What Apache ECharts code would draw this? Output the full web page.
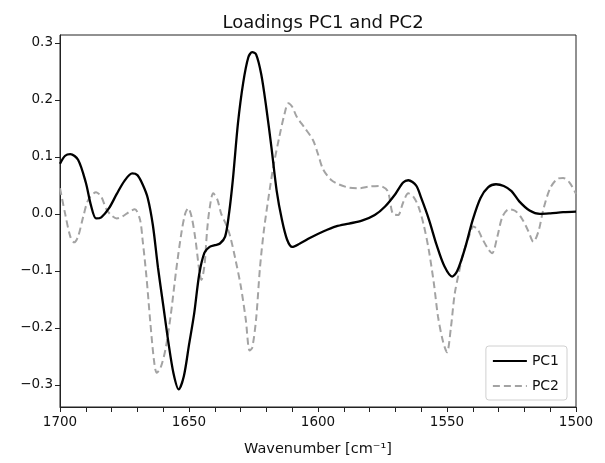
<!DOCTYPE html>
<html>
<head>
<meta charset="utf-8">
<script src="https://cdn.jsdelivr.net/npm/echarts@6/dist/echarts.min.js"></script>
<style>html,body{margin:0;padding:0;background:#fff;}#c{width:605px;height:463px;}</style>
</head>
<body>
<div id="c"></div>
<script>
var pc1Wave = [1700,1698,1696,1693,1690,1688,1686,1684,1681,1678,1675,1672,1670,1668,1666,1664,1662,1660,1658,1656,1654,1652,1650,1648,1646,1644,1642,1640,1638,1636,1634.5,1633,1631,1629,1627,1625.5,1624,1622,1620,1618,1616,1614,1612,1610,1607,1603,1598,1593,1588,1583,1578,1574,1570,1567,1565,1562,1560,1557,1554,1551,1548,1546,1543,1540,1537,1534,1531,1528,1525,1522,1518,1514,1510,1505,1500];
var pc1Load = [0.088,0.102,0.105,0.095,0.055,0.015,-0.008,-0.006,0.010,0.035,0.058,0.071,0.068,0.052,0.028,-0.020,-0.095,-0.160,-0.225,-0.280,-0.308,-0.285,-0.230,-0.175,-0.105,-0.068,-0.058,-0.055,-0.052,-0.040,0.000,0.060,0.160,0.230,0.275,0.284,0.280,0.245,0.185,0.115,0.040,-0.010,-0.045,-0.058,-0.052,-0.042,-0.031,-0.022,-0.017,-0.012,-0.002,0.013,0.035,0.055,0.059,0.050,0.028,-0.010,-0.055,-0.092,-0.110,-0.100,-0.060,-0.010,0.028,0.047,0.052,0.049,0.040,0.022,0.006,0.000,0.001,0.003,0.004];
var pc2Wave = [1700,1698,1696,1694.5,1693,1691,1689,1686,1684,1682,1680,1678,1676,1673,1671,1669,1668,1666.5,1665,1663.5,1662.5,1661,1659,1657,1655,1653,1651.5,1650.3,1649,1647.5,1646,1645.2,1644,1643,1642,1640.6,1639,1637.5,1635.5,1634,1632,1630,1628,1626.5,1625.5,1624,1622.5,1621,1619.3,1617.3,1615,1613,1611.5,1610,1608.3,1605,1602,1600,1598,1595,1592,1588,1584,1580,1576,1573,1571,1569,1567,1565,1563,1561,1559,1557,1555,1553.5,1551.5,1550,1548.5,1547,1545,1543.7,1541.5,1539.8,1538,1536.5,1534,1532.5,1530.5,1528.5,1526,1523.5,1521,1518.5,1516.5,1514.5,1512.7,1510,1507,1505,1502.5,1500];
var pc2Load = [0.045,0.000,-0.040,-0.050,-0.040,-0.005,0.025,0.038,0.030,0.008,-0.003,-0.008,-0.005,0.004,0.008,-0.010,-0.045,-0.110,-0.190,-0.260,-0.279,-0.270,-0.235,-0.175,-0.100,-0.035,0.000,0.010,-0.005,-0.045,-0.100,-0.116,-0.090,-0.030,0.010,0.036,0.025,0.000,-0.020,-0.040,-0.080,-0.125,-0.185,-0.240,-0.235,-0.185,-0.095,-0.030,0.025,0.083,0.135,0.175,0.194,0.188,0.171,0.150,0.130,0.105,0.078,0.060,0.052,0.046,0.045,0.048,0.049,0.040,0.000,-0.002,0.020,0.036,0.030,0.012,-0.020,-0.065,-0.125,-0.180,-0.225,-0.243,-0.200,-0.140,-0.095,-0.069,-0.040,-0.022,-0.028,-0.042,-0.062,-0.069,-0.040,-0.005,0.008,0.005,-0.008,-0.030,-0.049,-0.030,0.007,0.045,0.062,0.063,0.055,0.035];
var seriesNames = ['PC1','PC2'];
var titleText = 'Loadings PC1 and PC2';
var xAxisTitle = 'Wavenumber [cm\u207B\u00B9]';

function pairs(xs, ys){ return xs.map(function(x,i){ return [x, ys[i]]; }); }

var font = 'DejaVu Sans';
var chart = echarts.init(document.getElementById('c'), null, {renderer:'canvas'});
chart.setOption({
  animation: false,
  backgroundColor: '#fff',
  title: {
    text: titleText, left: 318, top: 9, textAlign: 'center',
    textStyle: {fontFamily: font, fontSize: 18, fontWeight: 'normal', color: '#111'}
  },
  grid: {left: 60, right: 29, top: 35, bottom: 56, show: true, borderColor: '#222', borderWidth: 1, backgroundColor: 'transparent'},
  legend: {
    orient: 'vertical', right: 38, bottom: 63,
    data: seriesNames,
    itemWidth: 34, itemHeight: 12, itemGap: 11,
    padding: [8, 8, 7, 6],
    itemStyle: {opacity: 0},
    borderColor: '#d0d0d0', borderWidth: 1, borderRadius: 3,
    textStyle: {fontFamily: font, fontSize: 14, color: '#111'}
  },
  xAxis: {
    type: 'value', inverse: true, min: 1500, max: 1700, interval: 50,
    name: xAxisTitle, nameLocation: 'middle', nameGap: 35,
    nameTextStyle: {fontFamily: font, fontSize: 14.5, color: '#111'},
    axisLine: {show: true, onZero: false, lineStyle: {color: '#222', width: 1}},
    axisTick: {show: true, inside: false, length: 5, lineStyle: {color: '#222'}},
    minorTick: {show: true, splitNumber: 5, length: 5, lineStyle: {color: '#222'}},
    axisLabel: {fontFamily: font, fontSize: 13.5, color: '#111', margin: 8,
      formatter: function(v){ return String(v); }},
    splitLine: {show: false}
  },
  yAxis: {
    type: 'value', min: -0.339, max: 0.314,
    axisLine: {show: true, onZero: false, lineStyle: {color: '#222', width: 1}},
    axisTick: {show: true, inside: false, length: 5, lineStyle: {color: '#222'}},
    axisLabel: {
      fontFamily: font, fontSize: 13.5, color: '#111', margin: 7,
      showMinLabel: false, showMaxLabel: false,
      formatter: function(v){
        if (Math.abs(v*10 - Math.round(v*10)) > 1e-6) return '';
        return (Math.round(v*10)/10).toFixed(1).replace('-', '\u2212');
      }
    },
    splitLine: {show: false}
  },
  series: [
    {
      name: seriesNames[0], type: 'line', data: pairs(pc1Wave, pc1Load),
      symbol: 'none', smooth: 0.3, z: 3,
      lineStyle: {color: '#000', width: 2.3},
      itemStyle: {color: '#000'}
    },
    {
      name: seriesNames[1], type: 'line', data: pairs(pc2Wave, pc2Load),
      symbol: 'none', smooth: 0.3, z: 2,
      lineStyle: {color: '#a3a3a3', width: 2, type: [7, 4]},
      itemStyle: {color: '#a3a3a3'}
    }
  ]
});
</script>
</body>
</html>
